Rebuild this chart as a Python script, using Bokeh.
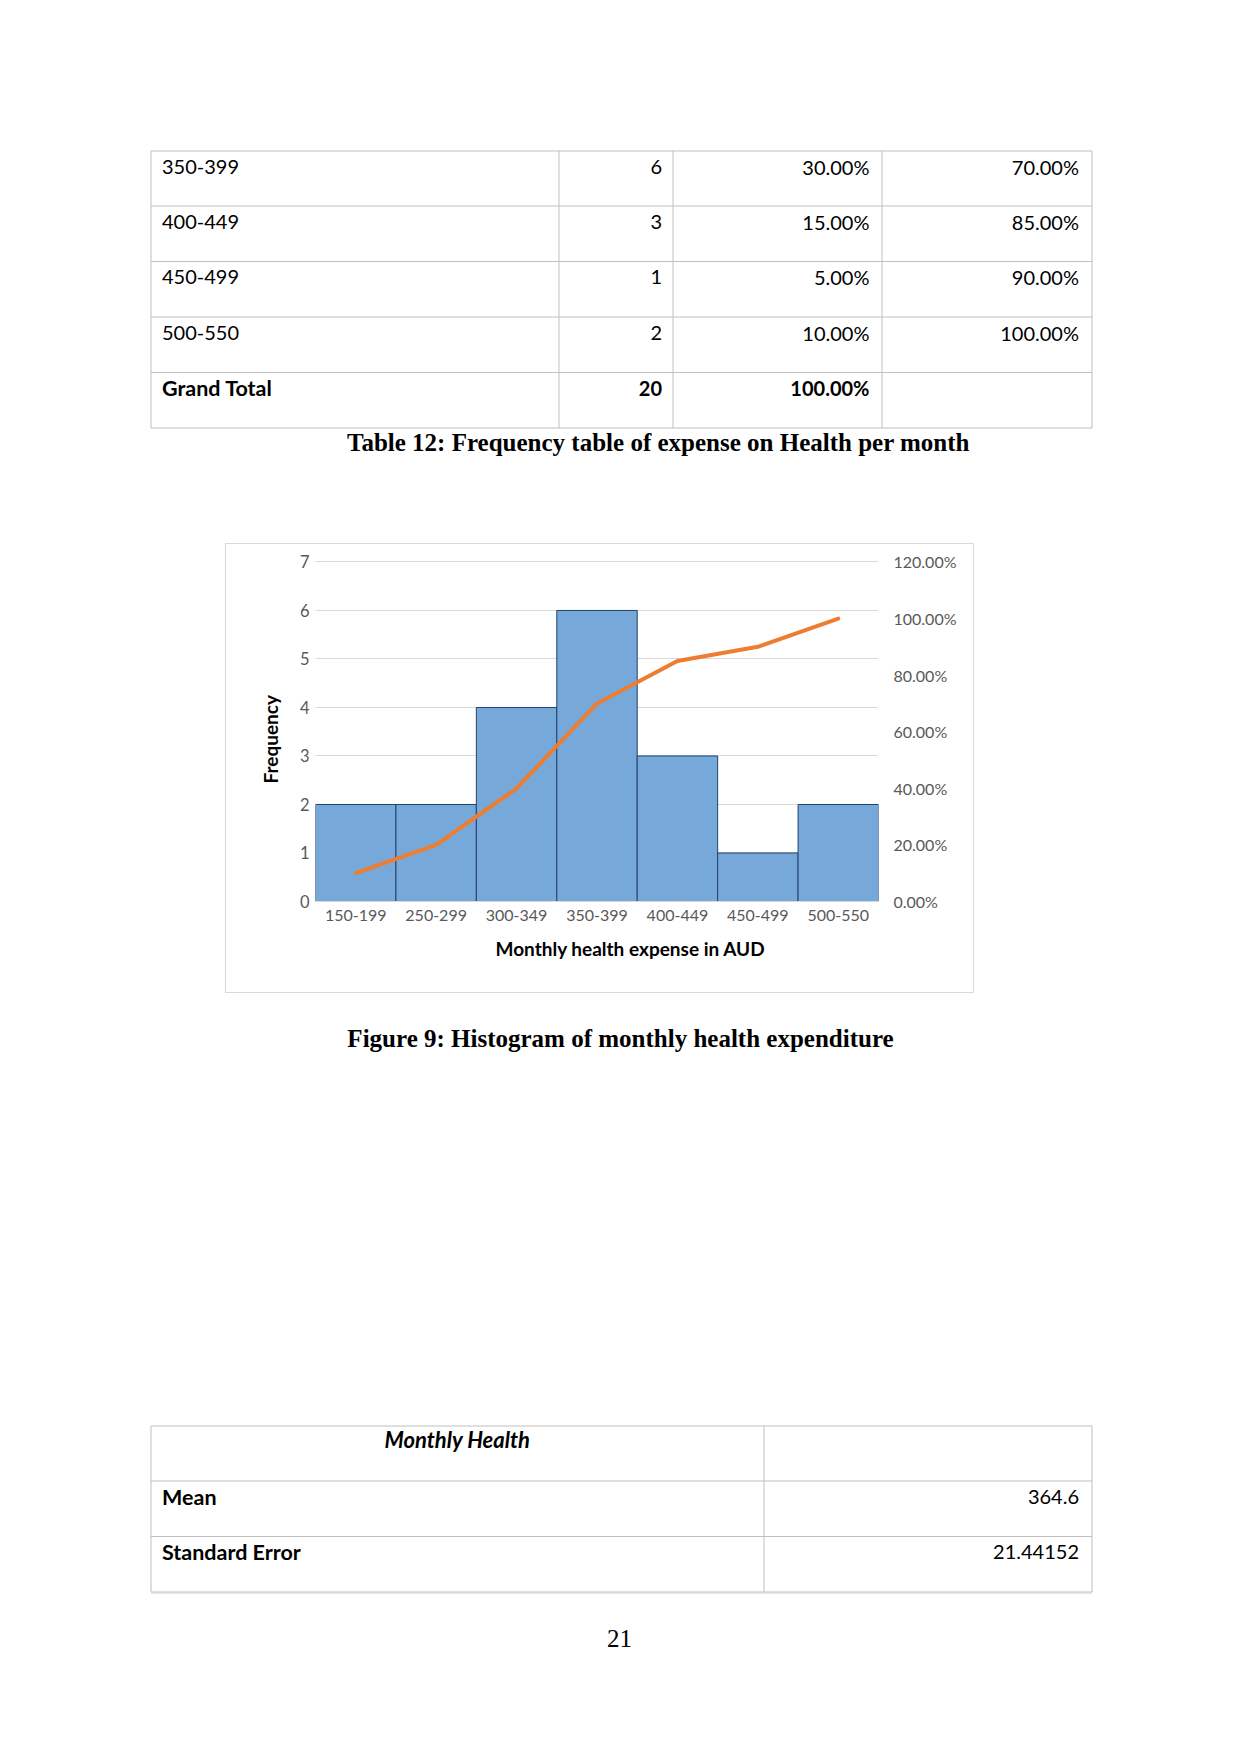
from bokeh.plotting import figure
from bokeh.layouts import column, row
from bokeh.models import (Range1d, FixedTicker, LinearAxis, NumeralTickFormatter,
                          Spacer, Title)
from bokeh.core.properties import value
from bokeh.embed import file_html
from bokeh.resources import INLINE

# ---------------- data ----------------
# Frequency table (continued from previous page)
table_ranges = ["350-399", "400-449", "450-499", "500-550", "Grand Total"]
table_freq = ["6", "3", "1", "2", "20"]
table_pct = ["30.00%", "15.00%", "5.00%", "10.00%", "100.00%"]
table_cum = ["70.00%", "85.00%", "90.00%", "100.00%", ""]

# Histogram
bins = ["150-199", "250-299", "300-349", "350-399", "400-449", "450-499", "500-550"]
freq = [2, 2, 4, 6, 3, 1, 2]
cum_pct = [0.10, 0.20, 0.40, 0.70, 0.85, 0.90, 1.00]
freq_ticks = [0, 1, 2, 3, 4, 5, 6, 7]
pct_ticks = [0.0, 0.2, 0.4, 0.6, 0.8, 1.0, 1.2]

# Descriptive statistics
stat_header = "Monthly Health"
stat_labels = ["Mean", "Standard Error"]
stat_values = ["364.6", "21.44152"]

table_caption = "Table 12: Frequency table of expense on Health per month"
figure_caption = "Figure 9: Histogram of monthly health expenditure"
page_number = "21"

SANS = value("Lato")
SERIF = value("Liberation Serif")
LINE = "#bfbfbf"
DY = -8  # baseline correction

W = 1241
TOP_H = 543
CHART_W, CHART_H = 749, 450
BOT_Y0 = 994
BOT_H = 1754 - BOT_Y0


def page_fig(y0, h):
    f = figure(width=W, height=h, x_range=Range1d(0, W), y_range=Range1d(y0 + h, y0),
               output_backend="svg", toolbar_location=None, min_border=0,
               x_axis_location=None, y_axis_location=None)
    f.grid.visible = False
    f.outline_line_color = None
    f.background_fill_color = "white"
    f.border_fill_color = "white"
    return f


# ---------------- top part: table 12 ----------------
top = page_fig(0, TOP_H)
row_edges = [150.5, 205.5, 261.0, 316.5, 372.0, 427.5]
col_edges = [150.5, 558.5, 672.5, 881.5, 1091.5]
top.segment(x0=[col_edges[0]] * len(row_edges), x1=[col_edges[-1]] * len(row_edges),
            y0=row_edges, y1=row_edges, line_color=LINE, line_width=1)
top.segment(x0=col_edges, x1=col_edges, y0=[row_edges[0]] * len(col_edges),
            y1=[row_edges[-1]] * len(col_edges), line_color=LINE, line_width=1)

n = len(table_ranges)
for i in range(n):
    bold = (i == n - 1)
    yb = row_edges[i] + 23.5 + DY
    xs = [161.5, 661.5, 869.0, 1078.5]
    vals = [table_ranges[i], table_freq[i], table_pct[i], table_cum[i]]
    aligns = ["left", "right", "right", "right"]
    for j, (x, v, a) in enumerate(zip(xs, vals, aligns)):
        if v:
            size = "21.5px" if (bold and j == 0) else "20px"
            top.text(x=[x], y=[yb], text=[v], text_font=SANS, text_font_size=size,
                     text_font_style="bold" if bold else "normal", text_align=a,
                     text_baseline="alphabetic", text_color="black")

top.text(x=[658], y=[450 + DY], text=[table_caption], text_font=SERIF, text_font_size="25px",
         text_font_style="bold", text_align="center", text_baseline="alphabetic",
         text_color="black")

# ---------------- chart ----------------
Y_TOP = 7.03
p = figure(x_range=bins, y_range=Range1d(0, Y_TOP), width=CHART_W, height=CHART_H,
           output_backend="svg", toolbar_location=None,
           min_border_left=89, min_border_right=97, min_border_top=16, min_border_bottom=93,
           styles={"border": "1px solid #d9d9d9"})
p.extra_y_ranges = {"pct": Range1d(0, 1.2 * Y_TOP / 7)}
p.outline_line_color = None
p.background_fill_color = "white"
p.border_fill_color = "white"

p.vbar(x=bins, top=freq, width=1.0, fill_color="#76A8DA", line_color="#23406E", line_width=1)
p.line(x=bins, y=cum_pct, y_range_name="pct", line_color="#ED7D31", line_width=4,
       line_join="round", line_cap="round")

p.xgrid.visible = False
p.ygrid.grid_line_color = "#d9d9d9"
p.ygrid.ticker = FixedTicker(ticks=freq_ticks)
p.ygrid.level = "underlay"

ya = p.yaxis[0]
ya.ticker = FixedTicker(ticks=freq_ticks)
ya.axis_line_color = None
ya.major_tick_line_color = None
ya.minor_tick_line_color = None
ya.major_tick_out = 0
ya.major_tick_in = 0
ya.major_label_standoff = 6
ya.major_label_text_font = "Lato"
ya.major_label_text_font_size = "16.5px"
ya.major_label_text_color = "#595959"

yt = Title(text="Frequency", align="left", offset=118,
           text_font="Lato", text_font_size="19px", text_font_style="bold",
           text_color="black", standoff=30)
p.add_layout(yt, "left")

xa = p.xaxis[0]
xa.axis_line_color = "#d9d9d9"
xa.major_tick_line_color = None
xa.minor_tick_line_color = None
xa.major_tick_out = 0
xa.major_tick_in = 0
xa.major_label_standoff = 8
xa.major_label_text_font = "Lato"
xa.major_label_text_font_size = "16px"
xa.major_label_text_color = "#595959"

xt = Title(text="Monthly health expense in AUD", align="left", offset=180,
           text_font="Lato", text_font_size="19px", text_font_style="bold",
           text_color="black", standoff=22)
p.add_layout(xt, "below")

ra = LinearAxis(y_range_name="pct", ticker=FixedTicker(ticks=pct_ticks),
                formatter=NumeralTickFormatter(format="0.00%"))
ra.axis_line_color = None
ra.major_tick_line_color = None
ra.minor_tick_line_color = None
ra.major_tick_out = 0
ra.major_tick_in = 0
ra.major_label_standoff = 15
ra.major_label_text_font = "Lato"
ra.major_label_text_font_size = "16px"
ra.major_label_text_color = "#595959"
p.add_layout(ra, "right")

# ---------------- bottom part ----------------
bot = page_fig(BOT_Y0, BOT_H)
bot.text(x=[620], y=[1046 + DY], text=[figure_caption], text_font=SERIF, text_font_size="25px",
         text_font_style="bold", text_align="center", text_baseline="alphabetic",
         text_color="black")

s_rows = [1425.5, 1480.5, 1536.0, 1591.5]
s_cols = [150.5, 763.5, 1091.5]
bot.segment(x0=[s_cols[0]] * len(s_rows), x1=[s_cols[-1]] * len(s_rows),
            y0=s_rows, y1=s_rows, line_color=LINE, line_width=1)
bot.segment(x0=s_cols, x1=s_cols, y0=[s_rows[0]] * len(s_cols),
            y1=[s_rows[-1]] * len(s_cols), line_color=LINE, line_width=1)
bot.segment(x0=[s_cols[0]], x1=[s_cols[-1]], y0=[s_rows[-1] + 1], y1=[s_rows[-1] + 1],
            line_color="#d0d0d0", line_width=1)

bot.text(x=[(s_cols[0] + s_cols[1]) / 2], y=[s_rows[0] + 21.5 + DY], text=[stat_header],
         text_font=SANS, text_font_size="22px", text_font_style="bold italic",
         text_align="center", text_baseline="alphabetic", text_color="black")
for i, (lab, val) in enumerate(zip(stat_labels, stat_values)):
    yb = s_rows[i + 1] + 23.5 + DY
    bot.text(x=[161.5], y=[yb], text=[lab], text_font=SANS, text_font_size="21.5px",
             text_font_style="bold", text_align="left", text_baseline="alphabetic",
             text_color="black")
    bot.text(x=[1078.5], y=[yb], text=[val], text_font=SANS, text_font_size="20px",
             text_align="right", text_baseline="alphabetic", text_color="black")

bot.text(x=[619], y=[1646 + DY], text=[page_number], text_font=SERIF, text_font_size="25px",
         text_align="center", text_baseline="alphabetic", text_color="black")

layout = column(top,
                row(Spacer(width=225, height=451), p,
                    Spacer(width=W - 225 - CHART_W, height=451)),
                bot)

open("out.html", "w").write(file_html(layout, INLINE))
